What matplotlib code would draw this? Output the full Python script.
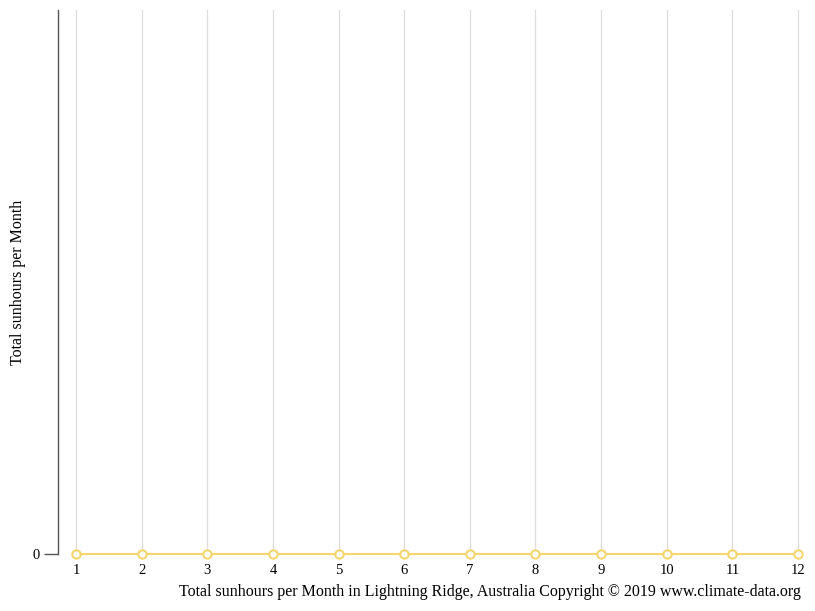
import matplotlib.pyplot as plt

months = [1, 2, 3, 4, 5, 6, 7, 8, 9, 10, 11, 12]
sunhours = [0, 0, 0, 0, 0, 0, 0, 0, 0, 0, 0, 0]

plt.rcParams['font.family'] = ['Liberation Serif', 'DejaVu Serif']

W, H = 815, 611
fig = plt.figure(figsize=(W / 100, H / 100), dpi=100)
left, right, top, bottom = 58, 812, 10, 554
ax = fig.add_axes([left / W, 1 - bottom / H, (right - left) / W, (bottom - top) / H])

step = (798 - 76) / 11
ax.set_xlim(1 - (76 - left) / step, 12 + (right - 798) / step)
ax.set_ylim(0, 1)

for m in months:
    ax.axvline(m, color='#dcdcdc', lw=0.9, zorder=1)

ax.plot(months, sunhours, color='#f5d66e', lw=1.5, marker='o', ms=6,
        mfc='white', mec='#f5d66e', mew=1.5, clip_on=False, zorder=3)

for s in ['top', 'right', 'bottom']:
    ax.spines[s].set_visible(False)
ax.spines['left'].set_color('#555555')
ax.spines['left'].set_linewidth(1)

ax.set_yticks([0])
ax.set_yticklabels(['0'])
ax.tick_params(axis='y', length=10, width=1, color='#555555', labelsize=10.5, pad=3)
ax.set_xticks(months)
ax.tick_params(axis='x', length=0, labelsize=10.5, pad=7)

fig.text(18 / W, 1 - 282 / H, 'Total sunhours per Month', rotation=90,
         ha='center', va='center', fontsize=11.5)
fig.text(801 / W, 1 - 592 / H,
         'Total sunhours per Month in Lightning Ridge, Australia Copyright \u00a9 2019 www.climate-data.org',
         ha='right', va='center', fontsize=11.5)

fig.savefig('out.png', dpi=100)
